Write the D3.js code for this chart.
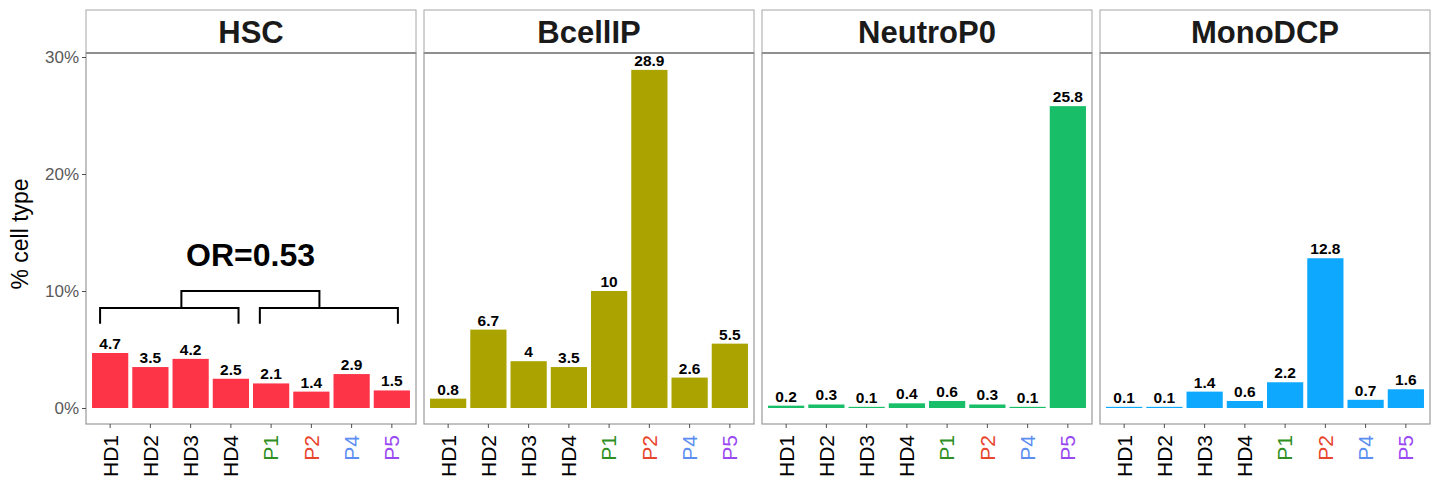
<!DOCTYPE html>
<html lang="en">
<head>
<meta charset="UTF-8">
<script src="https://d3js.org/d3.v7.min.js"></script>
<title>cell type</title>
<style>
  body { margin: 0; background: #fff; }
  text { font-family: Arial, "Liberation Sans", sans-serif; }
</style>
</head>
<body>
<div id="my_dataviz"></div>
<script>
// data
var samples = ["HD1", "HD2", "HD3", "HD4", "P1", "P2", "P4", "P5"];
var cellTypes = ["HSC", "BcellIP", "NeutroP0", "MonoDCP"];
var hscVals = [4.7, 3.5, 4.2, 2.5, 2.1, 1.4, 2.9, 1.5];
var bcellVals = [0.8, 6.7, 4, 3.5, 10, 28.9, 2.6, 5.5];
var neutroVals = [0.2, 0.3, 0.1, 0.4, 0.6, 0.3, 0.1, 25.8];
var monoVals = [0.1, 0.1, 1.4, 0.6, 2.2, 12.8, 0.7, 1.6];
var yTicks = [0, 10, 20, 30];
var orLabel = "OR=0.53";

var seriesVals = [hscVals, bcellVals, neutroVals, monoVals];
var barColors = ["#fd3347", "#aba300", "#18be68", "#0ea8fe"];
var sampleColors = {HD1: "#000", HD2: "#000", HD3: "#000", HD4: "#000",
                    P1: "#2f8f23", P2: "#e8462d", P4: "#5c8ef2", P5: "#9a48f2"};

var W = 1435, H = 481;
var panelW = 330, panelStep = 338, panelLeft = 86;
var stripTop = 10, stripH = 43;
var plotTop = stripTop + stripH, plotBottom = 424;

var svg = d3.select("#my_dataviz")
  .append("svg")
    .attr("width", W)
    .attr("height", H);

var x = d3.scaleBand()
  .domain(samples)
  .range([0, panelW])
  .paddingInner(0.1)
  .paddingOuter(0.15);

// 0% sits 16px above the panel bottom, 30% at y=57
var y = d3.scaleLinear()
  .domain([0, 30])
  .range([408 - plotTop, 57 - plotTop]);

cellTypes.forEach(function(ct, p) {
  var g = svg.append("g")
    .attr("transform", "translate(" + (panelLeft + p * panelStep) + "," + plotTop + ")");

  // strip
  g.append("rect")
    .attr("x", 0).attr("y", stripTop - plotTop)
    .attr("width", panelW).attr("height", stripH)
    .attr("fill", "#fff").attr("stroke", "#a6a6a6").attr("stroke-width", 1);
  g.append("line")
    .attr("x1", 0).attr("x2", panelW).attr("y1", 0).attr("y2", 0)
    .attr("stroke", "#808080").attr("stroke-width", 2);
  g.append("text")
    .attr("x", panelW / 2).attr("y", stripTop - plotTop + stripH / 2 + 11)
    .attr("text-anchor", "middle")
    .style("font-size", "31px").style("font-weight", "bold")
    .attr("fill", "#1a1a1a")
    .text(ct);

  // bars
  var vals = seriesVals[p];
  var data = samples.map(function(s, i) { return {s: s, v: vals[i]}; });
  g.selectAll(".bar").data(data).enter().append("rect")
    .attr("x", function(d) { return x(d.s); })
    .attr("y", function(d) { return y(d.v); })
    .attr("width", x.bandwidth())
    .attr("height", function(d) { return y(0) - y(d.v); })
    .attr("fill", barColors[p]);

  g.selectAll(".lab").data(data).enter().append("text")
    .attr("x", function(d) { return x(d.s) + x.bandwidth() / 2; })
    .attr("y", function(d) { return y(d.v) - 4; })
    .attr("text-anchor", "middle")
    .style("font-size", "15.5px").style("font-weight", "bold")
    .text(function(d) { return d.v; });

  // panel border
  g.append("rect")
    .attr("x", 0).attr("y", 0)
    .attr("width", panelW).attr("height", plotBottom - plotTop)
    .attr("fill", "none").attr("stroke", "#999").attr("stroke-width", 1.2);

  // x axis
  var xa = g.append("g")
    .attr("transform", "translate(0," + (plotBottom - plotTop) + ")")
    .call(d3.axisBottom(x).tickSize(4).tickSizeOuter(0));
  xa.select(".domain").remove();
  xa.selectAll(".tick line").attr("stroke", "#4d4d4d");
  xa.selectAll(".tick text")
    .attr("transform", "rotate(-90)")
    .attr("x", -11).attr("y", 0).attr("dy", "0.35em")
    .attr("text-anchor", "end")
    .style("font-size", "21px")
    .style("font-family", "Arial, 'Liberation Sans', sans-serif")
    .attr("fill", function(d) { return sampleColors[d]; });

  if (p === 0) {
    var ya = g.append("g")
      .call(d3.axisLeft(y).tickValues(yTicks).tickSize(4)
        .tickFormat(function(d) { return d + "%"; }));
    ya.select(".domain").remove();
    ya.selectAll(".tick line").attr("stroke", "#4d4d4d");
    ya.selectAll(".tick text")
      .style("font-size", "17px")
      .style("font-family", "Arial, 'Liberation Sans', sans-serif")
      .attr("fill", "#595959");

    g.append("text")
      .attr("transform", "translate(-58," + (234 - plotTop) + ") rotate(-90)")
      .attr("text-anchor", "middle")
      .style("font-size", "23px")
      .text("% cell type");

    // bracket annotation, positions in category units
    var step = x.step();
    var cx = function(u) { return x("HD1") + x.bandwidth() / 2 + u * step; };
    var yLow = y(7.2), yMid = y(8.55), yTop = y(10);
    var bracket = [
      [[cx(-0.25), yLow], [cx(-0.25), yMid], [cx(3.19), yMid], [cx(3.19), yLow]],
      [[cx(3.72), yLow], [cx(3.72), yMid], [cx(7.15), yMid], [cx(7.15), yLow]],
      [[cx(1.77), yMid], [cx(1.77), yTop], [cx(5.2), yTop], [cx(5.2), yMid]]
    ];
    g.selectAll(".br").data(bracket).enter().append("path")
      .attr("d", d3.line())
      .attr("fill", "none").attr("stroke", "#000").attr("stroke-width", 2);
    g.append("text")
      .attr("x", cx(3.49)).attr("y", y(12.1))
      .attr("text-anchor", "middle")
      .style("font-size", "32px").style("font-weight", "bold")
      .text(orLabel);
  }
});
</script>
</body>
</html>
